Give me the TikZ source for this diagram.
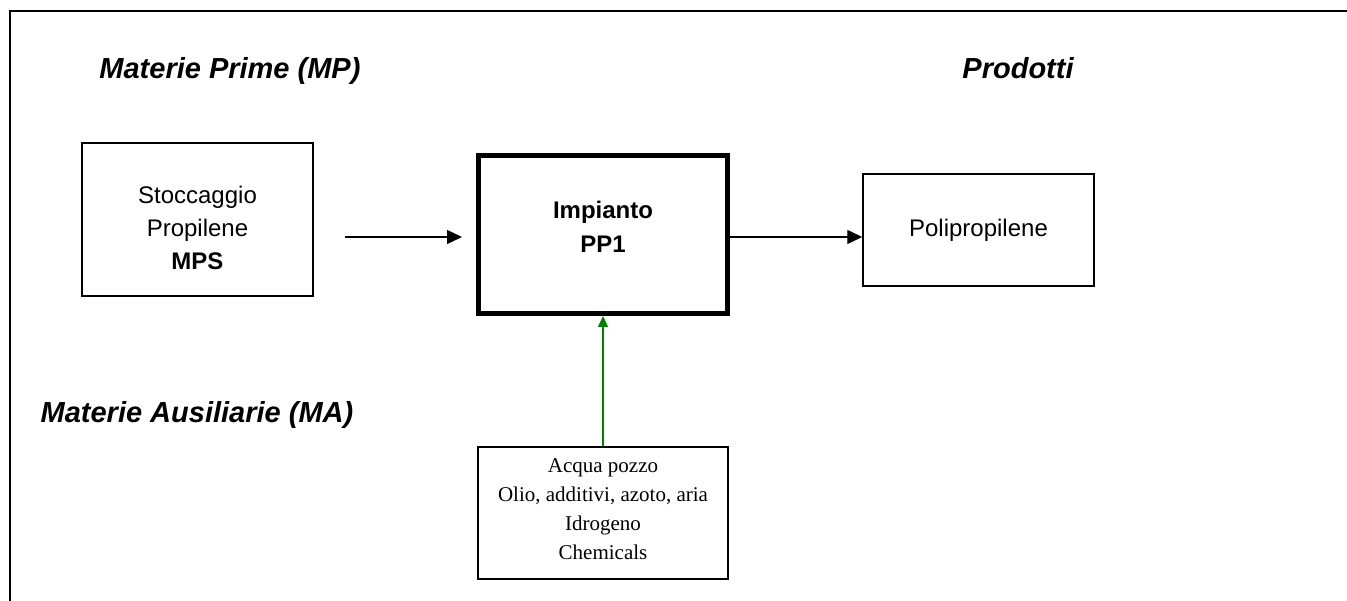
\documentclass[tikz,border=0pt]{standalone}
\usepackage{fontspec}
\setmainfont{Liberation Sans}
\newfontfamily\serifrm{Liberation Serif}
\usetikzlibrary{arrows.meta}
\definecolor{flowgreen}{RGB}{0,128,0}
\begin{document}
\begin{tikzpicture}[x=1pt,y=-1pt,
  box/.style={draw,line width=1.5pt,inner sep=0pt},
  thickbox/.style={draw,line width=4.6pt,inner sep=0pt},
  txt/.style={inner sep=0pt,font=\fontsize{24}{33}\selectfont,align=center},
  auxtxt/.style={inner sep=0pt,font=\serifrm\fontsize{21}{29.3}\selectfont,align=center},
  head/.style={inner sep=0pt,anchor=base,font=\fontsize{29}{34}\selectfont\bfseries\itshape},
  flow/.style={line width=1.4pt,-{Triangle[length=15pt,width=14pt]}},
  gflow/.style={line width=1.4pt,draw=flowgreen,-{Triangle[length=11pt,width=10pt,fill=flowgreen]}}]
\useasboundingbox (0,0) rectangle (1347,601);
\fill[white] (0,0) rectangle (1347,601);
% outer frame
\coordinate (frtl) at (10,11);
\coordinate (frtr) at (1350,11);
\coordinate (frbl) at (10,605);
\draw[line width=1.8pt] (frtr) -- (frtl) -- (frbl);
% headings
\node[head] (hmp) at (230,79) {Materie Prime (MP)};
\node[head] (hprod) at (1018,79) {Prodotti};
\node[head] (hma) at (197,423) {Materie Ausiliarie (MA)};
% boxes
\node[box,minimum width=231pt,minimum height=153pt] (mps) at (197.5,219.5) {};
\node[txt,anchor=north] (mpstxt) at (197.5,185.5) {Stoccaggio\\Propilene\\\textbf{MPS}};
\node[thickbox,minimum width=249.4pt,minimum height=158.4pt] (pp1) at (603,234.5) {};
\node[txt,anchor=north,font=\fontsize{24}{34}\selectfont\bfseries] (pp1txt) at (603,200.5) {Impianto\\PP1};
\node[box,minimum width=231pt,minimum height=112pt] (poli) at (978.5,230) {};
\node[txt] (politxt) at (poli.center) {Polipropilene};
\node[box,minimum width=250pt,minimum height=132pt] (aux) at (603,513) {};
\node[auxtxt,anchor=north] (auxtxt) at (603,458) {Acqua pozzo\\Olio, additivi, azoto, aria\\Idrogeno\\Chemicals};
% connectors
\coordinate (a1s) at (345,237);
\coordinate (a1e) at (462,237);
\draw[flow] (a1s) -- (a1e);
\draw[flow] (pp1.east |- 0,237) -- (poli.west |- 0,237);
\draw[gflow] (aux.north) -- (pp1.south);
\end{tikzpicture}
\end{document}
